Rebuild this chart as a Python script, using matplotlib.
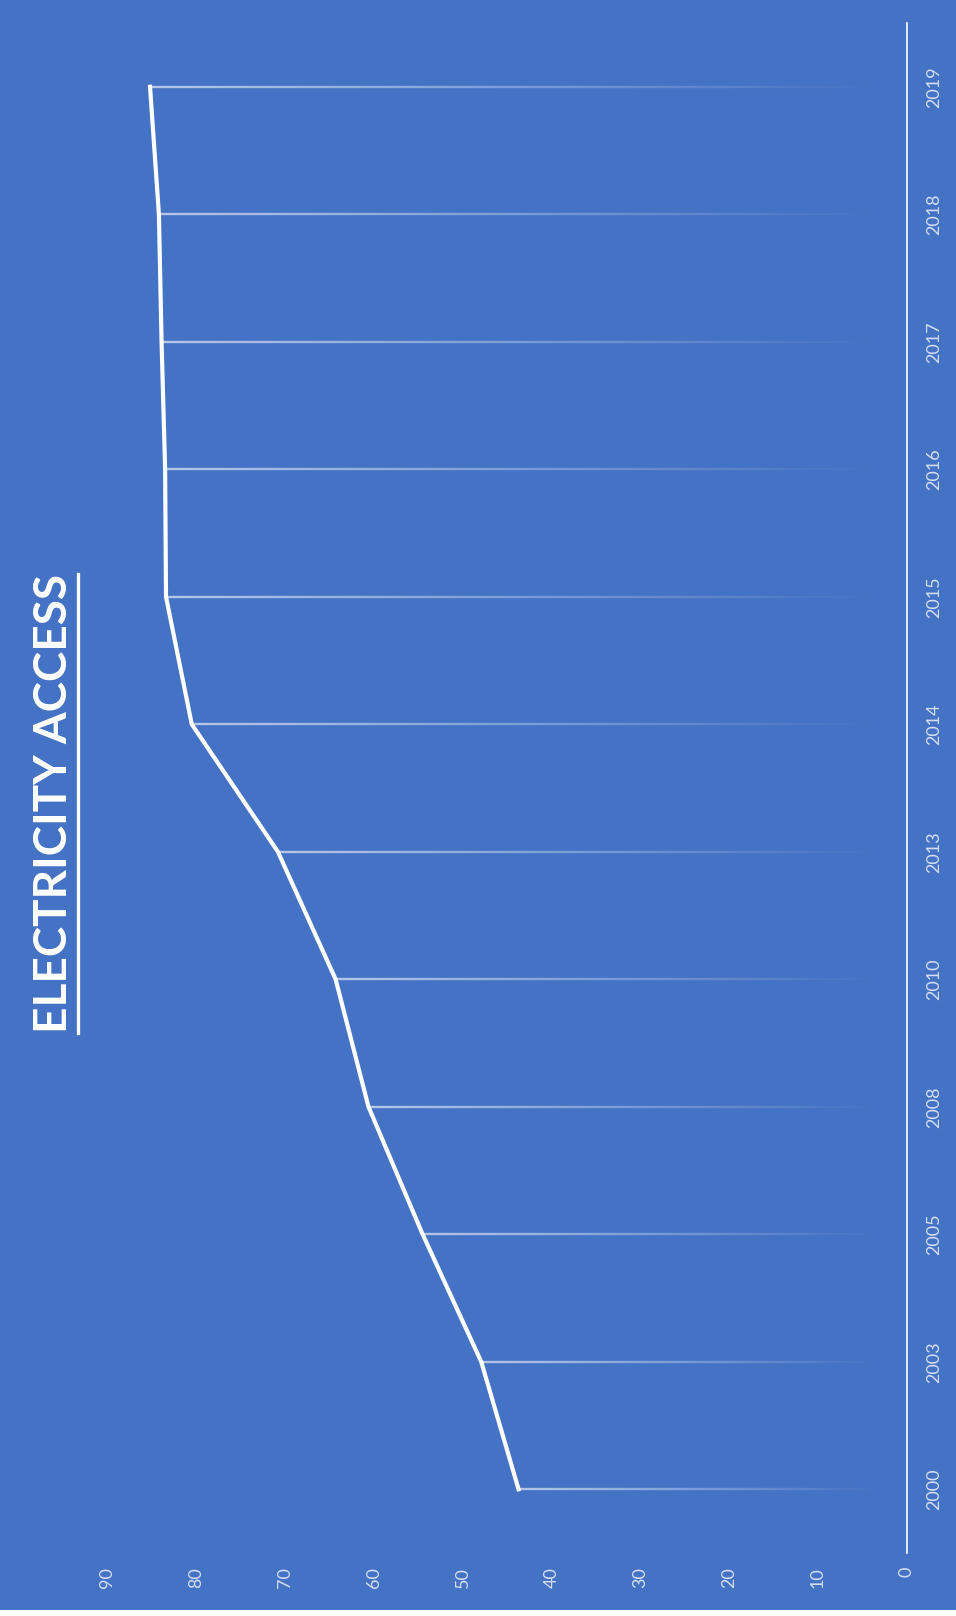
import matplotlib
matplotlib.use("Agg")
from matplotlib import pyplot as plt
from matplotlib.collections import LineCollection
from matplotlib.patches import Rectangle
from matplotlib.lines import Line2D
import numpy as np

years = ['2000', '2003', '2005', '2008', '2010', '2013',
         '2014', '2015', '2016', '2017', '2018', '2019']
access = [43.7, 47.9, 54.5, 60.6, 64.3, 70.8, 80.5, 83.4, 83.5, 83.9, 84.2, 85.2]
value_ticks = [0, 10, 20, 30, 40, 50, 60, 70, 80, 90]

bg = '#4472C4'
label_col = '#D6DEEF'

plt.rcParams['font.family'] = ['Lato', 'DejaVu Sans']

fig = plt.figure(figsize=(9.56, 16.16), dpi=100)
fig.patch.set_facecolor('white')
fig.add_artist(Rectangle((0, 6 / 1616), 1, 1, transform=fig.transFigure,
                         facecolor=bg, edgecolor='none', zorder=-10))

# chart is turned on its side: values run right-to-left, years bottom-to-top
ax = fig.add_axes([18.6 / 956, 63 / 1616, 888 / 956, 1530 / 1616])
ax.set_facecolor('none')

idx = np.arange(len(years))

# fading drop lines from each point to the value axis
for i, v in zip(idx, access):
    xs = np.linspace(v, 3, 60)
    segs = [[(xs[k], i), (xs[k + 1], i)] for k in range(len(xs) - 1)]
    alphas = np.linspace(0.6, 0.0, len(segs))
    cols = [(1, 1, 1, a) for a in alphas]
    ax.add_collection(LineCollection(segs, colors=cols, linewidths=1.7, zorder=2))

ax.plot(access, idx, color='white', lw=3.0, solid_joinstyle='miter', zorder=3)

ax.set_xlim(100, 0)
ax.set_ylim(-0.5, len(years) - 0.5)

for s in ['top', 'bottom', 'left']:
    ax.spines[s].set_visible(False)
ax.spines['right'].set_color('white')
ax.spines['right'].set_linewidth(1.2)

ax.yaxis.tick_right()
ax.set_yticks(idx)
ax.set_yticklabels(years, rotation=90, va='center')
ax.set_xticks(value_ticks)
ax.set_xticklabels([str(t) for t in value_ticks], rotation=90, ha='center')
ax.tick_params(axis='both', length=0, colors=label_col, labelsize=13)
ax.tick_params(axis='y', pad=14)
ax.tick_params(axis='x', pad=10)

title = fig.text(0.057, 0.503, 'ELECTRICITY ACCESS', rotation=90,
                 ha='center', va='center', color='white', fontsize=33,
                 fontweight='bold')

fig.canvas.draw()
bb = title.get_window_extent()
ux = (bb.x1 + 3) / 956
fig.add_artist(Line2D([ux, ux], [bb.y0 / 1616, bb.y1 / 1616],
                      transform=fig.transFigure, color='white', lw=2.4))

fig.savefig('out.png', dpi=100, facecolor=fig.get_facecolor())
